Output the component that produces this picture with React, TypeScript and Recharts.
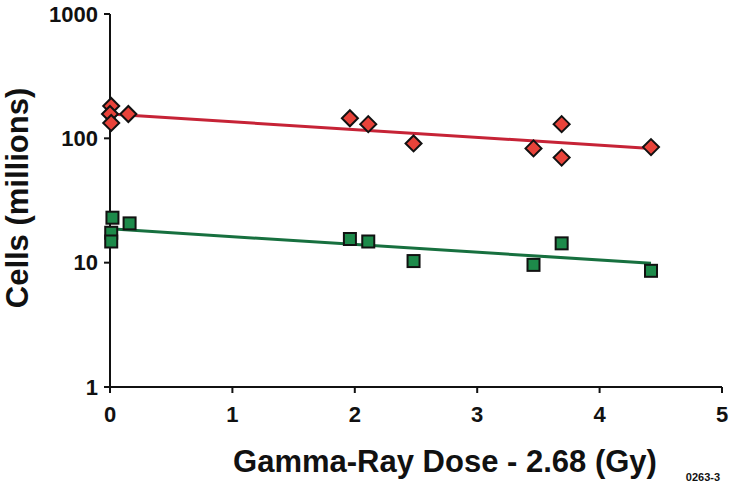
import { Label, Scatter, ScatterChart, XAxis, YAxis } from 'recharts';

// Reticulocyte-style dose response: red = upper population, green = lower
const redDose = [0.01, 0, 0.01, 0.15, 1.96, 2.11, 2.48, 3.46, 3.69, 3.69, 4.42];
const redCells = [182, 157, 133, 157, 145, 130, 91, 83, 130, 70, 85];
const greenDose = [0.02, 0.01, 0.01, 0.16, 1.96, 2.11, 2.48, 3.46, 3.69, 4.42];
const greenCells = [23, 17.4, 14.8, 20.7, 15.5, 14.8, 10.3, 9.6, 14.3, 8.6];

const redFitDose = [0, 4.42];
const redFitCells = [157, 83];
const greenFitDose = [0, 4.42];
const greenFitCells = [18.7, 9.9];

const xTicks = [0, 1, 2, 3, 4, 5];
const yTicks = [1, 10, 100, 1000];

const zip = (xs: number[], ys: number[]) => xs.map((x, i) => ({ x, y: ys[i] }));

const FONT = '"Liberation Sans", Arial, Helvetica, sans-serif';
const RED = '#e8433a';
const RED_LINE = '#c62336';
const GREEN = '#1d8a4a';
const GREEN_LINE = '#17703f';

const Diamond = ({ cx, cy }: any) => (
  <polygon
    points={`${cx},${cy - 8} ${cx + 8},${cy} ${cx},${cy + 8} ${cx - 8},${cy}`}
    fill={RED}
    stroke="#111"
    strokeWidth={2}
  />
);

const Square = ({ cx, cy }: any) => (
  <rect x={cx - 6} y={cy - 6} width={12} height={12} fill={GREEN} stroke="#111" strokeWidth={2} />
);

const NoDot = () => <g />;

export default function App() {
  const tickStyle = { fontFamily: FONT, fontWeight: 700, fontSize: 22, fill: '#111' };
  return (
    <div style={{ position: 'absolute', left: 0, top: 0, width: 730, height: 485, background: '#fff' }}>
      <ScatterChart width={730} height={485} margin={{ top: 14, right: 8, bottom: 0, left: 0 }}>
        <XAxis
          type="number"
          dataKey="x"
          domain={[0, 5]}
          ticks={xTicks}
          tickSize={6}
          tickMargin={13}
          height={98}
          axisLine={{ stroke: '#111', strokeWidth: 2 }}
          tickLine={{ stroke: '#111', strokeWidth: 2 }}
          tick={tickStyle}
        >
          <Label
            content={() => (
              <text x={445} y={472} textAnchor="middle" fontFamily={FONT} fontWeight={700} fontSize={31} fill="#111">
                Gamma-Ray Dose - 2.68 (Gy)
              </text>
            )}
          />
          <Label
            content={() => (
              <text x={703} y={481} textAnchor="middle" fontFamily={FONT} fontWeight={700} fontSize={11} fill="#111">
                0263-3
              </text>
            )}
          />
        </XAxis>
        <YAxis
          type="number"
          dataKey="y"
          scale="log"
          domain={[1, 1000]}
          allowDataOverflow
          ticks={yTicks}
          width={110}
          tickSize={6}
          tickMargin={6}
          axisLine={{ stroke: '#111', strokeWidth: 2 }}
          tickLine={{ stroke: '#111', strokeWidth: 2 }}
          tick={tickStyle}
        >
          <Label
            content={() => (
              <text
                x={28}
                y={198}
                transform="rotate(-90 28 198)"
                textAnchor="middle"
                fontFamily={FONT}
                fontWeight={700}
                fontSize={31}
                fill="#111"
              >
                Cells (millions)
              </text>
            )}
          />
        </YAxis>
        <Scatter
          data={zip(redFitDose, redFitCells)}
          line={{ stroke: RED_LINE, strokeWidth: 3 }}
          shape={NoDot}
          isAnimationActive={false}
        />
        <Scatter
          data={zip(greenFitDose, greenFitCells)}
          line={{ stroke: GREEN_LINE, strokeWidth: 3 }}
          shape={NoDot}
          isAnimationActive={false}
        />
        <Scatter data={zip(redDose, redCells)} shape={Diamond} isAnimationActive={false} />
        <Scatter data={zip(greenDose, greenCells)} shape={Square} isAnimationActive={false} />
      </ScatterChart>
    </div>
  );
}
